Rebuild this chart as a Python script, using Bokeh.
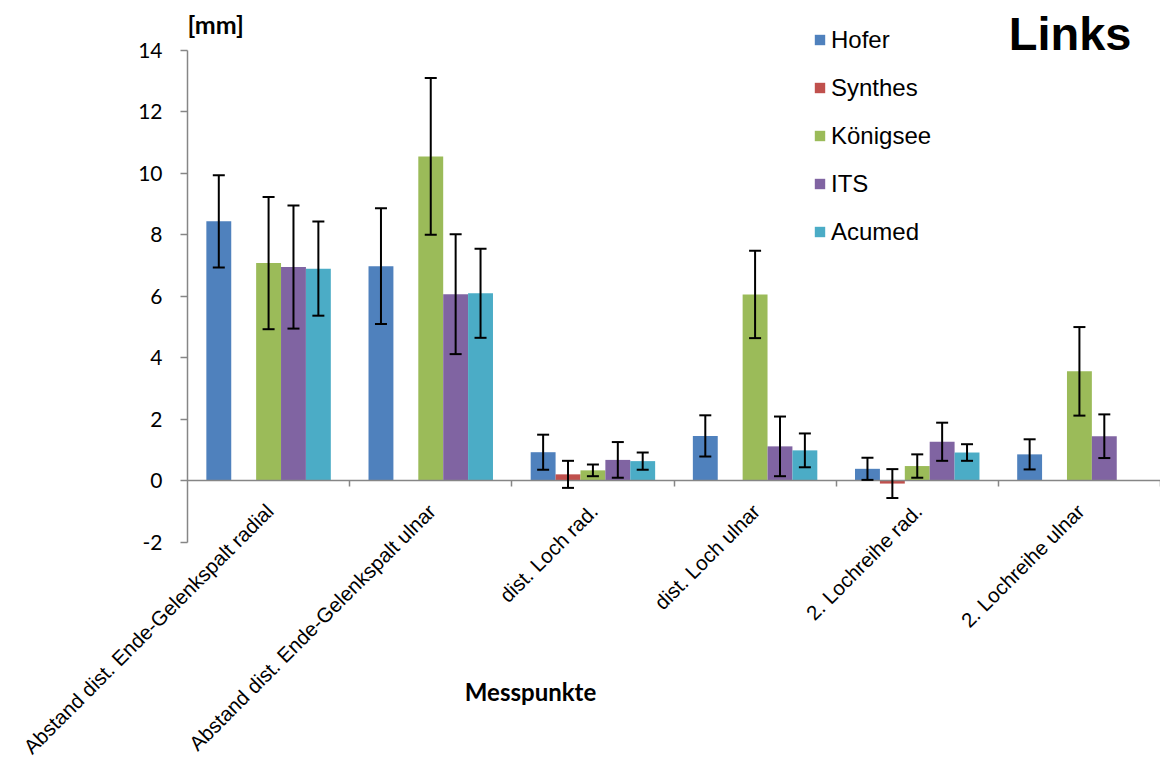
import math
from bokeh.plotting import figure
from bokeh.models import (ColumnDataSource, Range1d, LinearAxis, FixedTicker, Whisker,
                          TeeHead, Label, Legend, LegendItem)
from bokeh.core.properties import value
from bokeh.embed import file_html
from bokeh.resources import INLINE

# ---------------- data ----------------
categories = ["Abstand dist. Ende-Gelenkspalt radial",
              "Abstand dist. Ende-Gelenkspalt ulnar",
              "dist. Loch rad.",
              "dist. Loch ulnar",
              "2. Lochreihe rad.",
              "2. Lochreihe ulnar"]
series_names = ["Hofer", "Synthes", "Königsee", "ITS", "Acumed"]
hofer = [8.43, 6.97, 0.92, 1.45, 0.38, 0.85]
hofer_err = [1.50, 1.88, 0.57, 0.67, 0.36, 0.49]
synthes = [None, None, 0.20, None, -0.10, None]
synthes_err = [None, None, 0.44, None, 0.47, None]
koenigsee = [7.07, 10.54, 0.33, 6.05, 0.47, 3.55]
koenigsee_err = [2.15, 2.55, 0.19, 1.42, 0.38, 1.44]
its = [6.94, 6.06, 0.67, 1.11, 1.26, 1.44]
its_err = [2.00, 1.95, 0.58, 0.97, 0.62, 0.71]
acumed = [6.89, 6.09, 0.63, 0.98, 0.91, None]
acumed_err = [1.53, 1.45, 0.28, 0.55, 0.27, None]
y_ticks = [-2, 0, 2, 4, 6, 8, 10, 12, 14]
y_tick_labels = ["-2", "0", "2", "4", "6", "8", "10", "12", "14"]

colors = ["#4F81BD", "#C0504D", "#9BBB59", "#8064A2", "#4BACC6"]
values = [hofer, synthes, koenigsee, its, acumed]
errors = [hofer_err, synthes_err, koenigsee_err, its_err, acumed_err]

AX = "#868686"
W, H = 1160, 758
n = len(categories)
y_lo, y_hi = y_ticks[0], y_ticks[-1]

# layout: frame fills the canvas; axes drawn inside at fixed locations
px_left, px_right = 187.0, 1160.0          # pixel position of x = 0 and x = n
px_zero, px_top = 480.0, 49.5              # pixel position of y = 0 and y = y_hi
sx = (px_right - px_left) / n
sy = (px_zero - px_top) / y_hi
x_range = Range1d(-px_left / sx, n + (W - px_right) / sx)
y_range = Range1d(-(H - px_zero) / sy, y_hi + px_top / sy)

p = figure(width=W, height=H, x_range=x_range, y_range=y_range,
           output_backend="svg", toolbar_location=None,
           x_axis_type=None, y_axis_type=None,
           min_border_left=0, min_border_right=0, min_border_top=0, min_border_bottom=0)
p.outline_line_color = None
p.background_fill_color = "white"
p.border_fill_color = "white"

# y axis (drawn at x = 0, ticks pointing left)
yax = LinearAxis(fixed_location=0, bounds=(y_lo, y_hi),
                 ticker=FixedTicker(ticks=y_ticks),
                 major_label_overrides={t: "" for t in y_ticks},
                 major_label_text_font_size="1px", major_label_standoff=0,
                 axis_line_color=AX, axis_line_width=1.5,
                 major_tick_line_color=AX, major_tick_line_width=1.5,
                 major_tick_out=0, major_tick_in=7,
                 minor_tick_line_color=None)
p.add_layout(yax, "right")

# category axis (drawn at y = 0, ticks pointing down)
xax = LinearAxis(fixed_location=0, bounds=(0, n),
                 ticker=FixedTicker(ticks=list(range(1, n + 1))),
                 major_label_overrides={i: "" for i in range(1, n + 1)},
                 major_label_text_font_size="1px", major_label_standoff=0,
                 axis_line_color=AX, axis_line_width=1.5,
                 major_tick_line_color=AX, major_tick_line_width=1.5,
                 major_tick_out=0, major_tick_in=6,
                 minor_tick_line_color=None)
p.add_layout(xax, "above")

# y tick labels
p.text(x=[0] * len(y_ticks), y=y_ticks, text=y_tick_labels, x_offset=-25,
       text_align="right", text_baseline="middle", text_font=value("Lato"),
       text_font_size="21px", text_color="black")

# bars + error bars
nser = len(series_names)
bw = 0.1535
legend_items = []
for k, (name, vals, errs, col) in enumerate(zip(series_names, values, errors, colors)):
    off = (k - (nser - 1) / 2) * bw
    xs, tops, ups, los = [], [], [], []
    for i, (v, e) in enumerate(zip(vals, errs)):
        if v is None:
            continue
        xs.append(i + 0.5 + off)
        tops.append(v)
        ups.append(v + e)
        los.append(v - e)
    src = ColumnDataSource(dict(x=xs, top=tops, upper=ups, lower=los))
    r = p.vbar(x="x", top="top", bottom=0, width=bw, source=src,
               fill_color=col, line_color=None)
    legend_items.append(LegendItem(label=name, renderers=[r]))
    w = Whisker(base="x", upper="upper", lower="lower", source=src,
                line_color="black", line_width=2, level="annotation",
                upper_head=TeeHead(size=12, line_color="black", line_width=2),
                lower_head=TeeHead(size=12, line_color="black", line_width=2))
    p.add_layout(w)

# category labels (rotated)
for i, c in enumerate(categories):
    p.add_layout(Label(x=i + 0.5, y=0, text=c, angle=math.pi / 4,
                       text_align="right", text_baseline="middle",
                       y_offset=-27, x_offset=1,
                       text_font="Liberation Sans", text_font_size="20.5px",
                       text_color="black"))

# titles
p.add_layout(Label(x=0, y=y_hi, text="[mm]", text_font="Lato", text_font_style="bold",
                   text_font_size="25px", text_align="left",
                   text_baseline="middle", y_offset=26, text_color="black"))
p.add_layout(Label(x=n, y=y_hi, text="Links", text_font="Liberation Sans",
                   text_font_style="bold", text_font_size="47px", text_align="right",
                   text_baseline="middle", x_offset=-29, y_offset=17,
                   text_color="black"))
p.add_layout(Label(x=0, y=0, text="Messpunkte", text_font="Lato",
                   text_font_style="bold", text_font_size="24px", text_align="center",
                   text_baseline="middle", x_offset=343, y_offset=-211,
                   text_color="black"))

# legend
rh, sp = 26, 20
leg_bottom = 245.7
legend = Legend(items=legend_items, location=(813, H - leg_bottom),
                orientation="vertical", padding=0, margin=0, spacing=sp,
                glyph_width=13, glyph_height=13, label_height=rh,
                label_standoff=5, label_text_font="Liberation Sans",
                label_text_font_size="24px", label_text_color="black",
                border_line_color=None, background_fill_alpha=0)
p.add_layout(legend, "center")

open("out.html", "w").write(file_html(p, INLINE))
